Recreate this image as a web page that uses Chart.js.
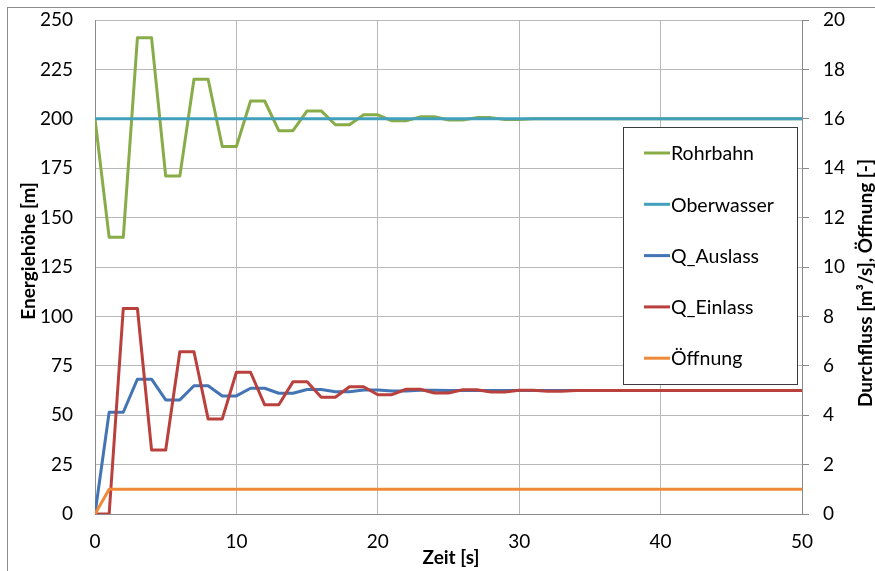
<!DOCTYPE html>
<html>
<head>
<meta charset="utf-8">
<script src="https://cdn.jsdelivr.net/npm/chart.js@4/dist/chart.umd.min.js"></script>
<style>
  html, body { margin: 0; padding: 0; background: #ffffff; }
  canvas { display: block; }
</style>
</head>
<body>
<canvas id="chart" width="875" height="571"></canvas>
<script>
// Zeitachse in Sekunden
const zeit = [
  0, 1, 2, 3, 4, 5, 6, 7, 8, 9,
  10, 11, 12, 13, 14, 15, 16, 17, 18, 19,
  20, 21, 22, 23, 24, 25, 26, 27, 28, 29,
  30, 31, 32, 33, 34, 35, 36, 37, 38, 39,
  40, 41, 42, 43, 44, 45, 46, 47, 48, 49,
  50,
];

// Energiehöhe [m] (linke Achse)
const rohrbahn = [
  200, 140, 140, 241, 241, 171, 171, 220, 220, 186,
  186, 209, 209, 194, 194, 204, 204, 197, 197, 202,
  202, 199, 199, 201, 201, 199.4, 199.4, 200.6, 200.6, 199.7,
  199.7, 200, 200, 200, 200, 200, 200, 200, 200, 200,
  200, 200, 200, 200, 200, 200, 200, 200, 200, 200,
  200,
];
const oberwasser = [
  200, 200, 200, 200, 200, 200, 200, 200, 200, 200,
  200, 200, 200, 200, 200, 200, 200, 200, 200, 200,
  200, 200, 200, 200, 200, 200, 200, 200, 200, 200,
  200, 200, 200, 200, 200, 200, 200, 200, 200, 200,
  200, 200, 200, 200, 200, 200, 200, 200, 200, 200,
  200,
];

// Durchfluss [m³/s] und Öffnung [-] (rechte Achse)
const qAuslass = [
  0, 4.12, 4.12, 5.46, 5.46, 4.62, 4.62, 5.19, 5.19, 4.78,
  4.78, 5.09, 5.09, 4.89, 4.89, 5.04, 5.04, 4.95, 4.95, 5.02,
  5.02, 4.98, 4.98, 5.01, 5.01, 5, 5, 5, 5, 5,
  5, 5, 5, 5, 5, 5, 5, 5, 5, 5,
  5, 5, 5, 5, 5, 5, 5, 5, 5, 5,
  5,
];
const qEinlass = [
  0, 0, 8.32, 8.32, 2.59, 2.59, 6.57, 6.57, 3.85, 3.85,
  5.74, 5.74, 4.42, 4.42, 5.35, 5.35, 4.73, 4.73, 5.15, 5.15,
  4.83, 4.83, 5.05, 5.05, 4.9, 4.9, 5.03, 5.03, 4.94, 4.94,
  5.01, 5.01, 4.97, 4.97, 5, 5, 5, 5, 5, 5,
  5, 5, 5, 5, 5, 5, 5, 5, 5, 5,
  5,
];
const oeffnung = [
  0, 1, 1, 1, 1, 1, 1, 1, 1, 1,
  1, 1, 1, 1, 1, 1, 1, 1, 1, 1,
  1, 1, 1, 1, 1, 1, 1, 1, 1, 1,
  1, 1, 1, 1, 1, 1, 1, 1, 1, 1,
  1, 1, 1, 1, 1, 1, 1, 1, 1, 1,
  1,
];

const seriesNames = ['Rohrbahn', 'Oberwasser', 'Q_Auslass', 'Q_Einlass', 'Öffnung'];
const seriesValues = [rohrbahn, oberwasser, qAuslass, qEinlass, oeffnung];
const seriesAxis = ['y', 'y', 'y1', 'y1', 'y1'];
const seriesColors = ['#88ad48', '#42a0bd', '#4374b3', '#b9403d', '#ee8a38'];

const FONT = 'Lato, "Open Sans", sans-serif';
const gridColor = '#b8b8b8';
const axisColor = '#8a8a8a';

function toPoints(values) {
  return values.map((v, i) => ({ x: zeit[i], y: v }));
}

const datasets = seriesNames.map((name, i) => ({
  label: name,
  data: toPoints(seriesValues[i]),
  yAxisID: seriesAxis[i],
  borderColor: seriesColors[i],
  backgroundColor: seriesColors[i],
  borderWidth: 3,
  borderJoinStyle: 'round',
  borderCapStyle: 'round',
  pointRadius: 0,
  tension: 0,
  fill: false,
  // later series are painted above earlier ones
  order: seriesNames.length - i,
}));

// outer frame, axis titles and the boxed legend
const decorations = {
  id: 'decorations',
  beforeDraw(chart) {
    const ctx = chart.ctx;
    ctx.save();
    ctx.fillStyle = '#ffffff';
    ctx.fillRect(0, 0, chart.width, chart.height);
    ctx.strokeStyle = '#8c8c8c';
    ctx.lineWidth = 1;
    ctx.strokeRect(7.5, 7.5, chart.width + 20, chart.height + 20);
    ctx.restore();
  },
  afterDraw(chart) {
    const ctx = chart.ctx;
    ctx.save();
    ctx.fillStyle = '#000000';
    ctx.font = `bold 19px ${FONT}`;
    ctx.textBaseline = 'middle';

    // x title
    ctx.textAlign = 'center';
    ctx.fillText('Zeit [s]', 451, 558);

    // left title
    ctx.save();
    ctx.translate(29, 251);
    ctx.rotate(-Math.PI / 2);
    ctx.fillText('Energiehöhe [m]', 0, 0);
    ctx.restore();

    // right title, cut off at the top edge
    ctx.save();
    ctx.beginPath();
    ctx.rect(840, 157, 40, 420);
    ctx.clip();
    ctx.translate(866, 407);
    ctx.rotate(-Math.PI / 2);
    ctx.textAlign = 'left';
    ctx.fillText('Durchfluss [m³/s], Öffnung [-]', 0, 0);
    ctx.restore();

    // legend
    const box = { x: 623.5, y: 127.5, w: 174, h: 257 };
    ctx.fillStyle = '#ffffff';
    ctx.fillRect(box.x, box.y, box.w, box.h);
    ctx.strokeStyle = '#3c3c3c';
    ctx.lineWidth = 1;
    ctx.strokeRect(box.x, box.y, box.w, box.h);

    ctx.font = `19.5px ${FONT}`;
    ctx.textAlign = 'left';
    chart.data.datasets.forEach((ds, i) => {
      const y = 153 + i * 51.3;
      ctx.strokeStyle = ds.borderColor;
      ctx.lineWidth = 3;
      ctx.beginPath();
      ctx.moveTo(644, y);
      ctx.lineTo(670, y);
      ctx.stroke();
      ctx.fillStyle = '#000000';
      ctx.fillText(ds.label, 671, y + 1);
    });
    ctx.restore();
  },
};

const tickFont = { family: FONT, size: 19 };

// fixed axis box sizes so the plot area sits at 95..802 x 20..512
function fixWidth(width) {
  return (scale) => {
    scale.width = width;
    scale.paddingTop = 0;
    scale.paddingBottom = 0;
  };
}

new Chart(document.getElementById('chart'), {
  type: 'line',
  data: { datasets },
  options: {
    responsive: false,
    animation: false,
    layout: { padding: { top: 20, left: 0, right: 0, bottom: 0 } },
    plugins: {
      legend: { display: false },
      tooltip: { enabled: false },
    },
    scales: {
      x: {
        type: 'linear',
        min: 0,
        max: 50,
        ticks: { stepSize: 10, padding: 16, color: '#000000', font: tickFont, maxRotation: 0 },
        grid: { color: gridColor, drawTicks: false },
        border: { color: axisColor },
        afterFit: (scale) => { scale.height = 57; },
      },
      y: {
        position: 'left',
        min: 0,
        max: 250,
        ticks: { stepSize: 25, padding: 22, color: '#000000', font: tickFont },
        grid: { color: gridColor, drawTicks: false },
        border: { color: axisColor },
        afterFit: fixWidth(95),
      },
      y1: {
        position: 'right',
        min: 0,
        max: 20,
        ticks: { stepSize: 2, padding: 14, color: '#000000', font: tickFont },
        grid: { drawOnChartArea: false, drawTicks: true, tickLength: 7, color: axisColor },
        border: { color: axisColor },
        afterFit: fixWidth(73),
      },
    },
  },
  plugins: [decorations],
});
</script>
</body>
</html>
